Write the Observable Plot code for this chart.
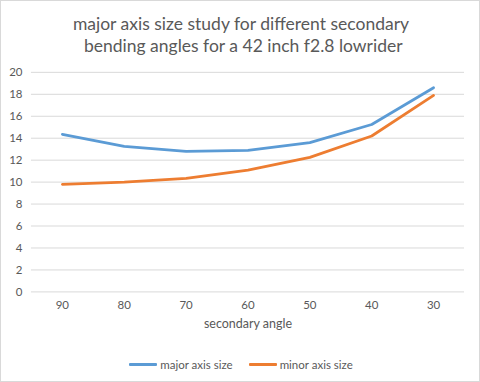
<!DOCTYPE html>
<html>
<head>
<meta charset="utf-8">
<script src="https://cdn.jsdelivr.net/npm/d3@7"></script>
<script src="https://cdn.jsdelivr.net/npm/@observablehq/plot@0.6"></script>
<style>
  html, body { margin: 0; padding: 0; background: #fff; }
  #frame { position: relative; width: 480px; height: 382px; box-sizing: border-box; border: 1px solid #d9d9d9; overflow: hidden; font-family: Lato, "Open Sans", sans-serif; color: #595959; }
  #title { position: absolute; left: 0; top: 12px; width: 480px; text-align: center; font-size: 17.5px; line-height: 22px; color: #595959; }
  #chart { position: absolute; left: -1px; top: -1px; }
  #legend { position: absolute; left: 0; top: 354px; width: 480px; text-align: center; font-size: 11.5px; }
  .item { display: inline-flex; align-items: center; margin: 0 8px; }
  .sw { display: inline-block; width: 28px; height: 3px; margin-right: 3px; border-radius: 1px; }
</style>
</head>
<body>
<div id="frame">
  <div id="chart"></div>
  <div id="title">major axis size study for different secondary<br>&nbsp;bending angles for a 42 inch f2.8 lowrider</div>
  <div id="legend"></div>
</div>
<script>
const angles = ["90", "80", "70", "60", "50", "40", "30"];
const majorAxis = [14.35, 13.25, 12.8, 12.9, 13.6, 15.25, 18.6];
const minorAxis = [9.8, 10.0, 10.35, 11.1, 12.25, 14.2, 17.9];
const seriesNames = ["major axis size", "minor axis size"];
const seriesColors = ["#5b9bd5", "#ed7d31"];
const yTicks = [0, 2, 4, 6, 8, 10, 12, 14, 16, 18, 20];

const data = [];
angles.forEach((a, i) => {
  data.push({angle: a, value: majorAxis[i], series: seriesNames[0]});
  data.push({angle: a, value: minorAxis[i], series: seriesNames[1]});
});

const chart = Plot.plot({
  width: 480,
  height: 340,
  marginTop: 72,
  marginLeft: 31,
  marginRight: 15,
  marginBottom: 48,
  style: {fontFamily: "Lato, 'Open Sans', sans-serif", fontSize: "11.5px", color: "#595959", background: "transparent"},
  x: {type: "band", domain: angles, padding: 0, label: null},
  y: {domain: [0, 20], label: null},
  color: {domain: seriesNames, range: seriesColors},
  marks: [
    Plot.ruleY(yTicks, {stroke: "#d9d9d9", strokeWidth: 1}),
    Plot.axisY({ticks: yTicks, tickSize: 0, tickPadding: 9, label: null, fill: "#595959"}),
    Plot.axisX({tickSize: 0, tickPadding: 9, label: null, fill: "#595959"}),
    Plot.text(["secondary angle"], {frameAnchor: "bottom", dy: 36, fontSize: 12.5, fill: "#595959"}),
    Plot.line(data, {x: "angle", y: "value", z: "series", stroke: "series", strokeWidth: 2.75, strokeLinecap: "round", strokeLinejoin: "round"})
  ]
});
document.getElementById("chart").appendChild(chart);

const legend = document.getElementById("legend");
seriesNames.forEach((n, i) => {
  const it = document.createElement("span");
  it.className = "item";
  const sw = document.createElement("span");
  sw.className = "sw";
  sw.style.background = seriesColors[i];
  it.appendChild(sw);
  it.appendChild(document.createTextNode(n));
  legend.appendChild(it);
});
</script>
</body>
</html>
